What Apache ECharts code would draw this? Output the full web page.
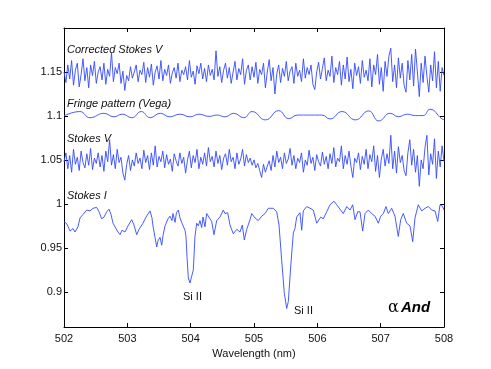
<!DOCTYPE html>
<html>
<head>
<meta charset="utf-8">
<script src="https://cdn.jsdelivr.net/npm/echarts@6/dist/echarts.min.js"></script>
<style>
  html, body { margin: 0; padding: 0; background: #fff; }
  #chart { width: 491px; height: 369px; }
</style>
</head>
<body>
<div id="chart"></div>
<script>
// 波长网格 (Stokes V 两条噪声谱用)
var wlStart = 502, wlStep = 0.03;

// Corrected Stokes V
var corrV = [
  1.150, 1.138, 1.158, 1.142, 1.163, 1.135, 1.152, 1.160, 1.133, 1.147, 1.165, 1.140, 1.155, 1.132, 1.158, 1.146, 1.162, 1.137, 1.150, 1.156,
  1.141, 1.160, 1.136, 1.153, 1.145, 1.172, 1.139, 1.155, 1.148, 1.160, 1.137, 1.151, 1.129, 1.146, 1.140, 1.156, 1.143, 1.150, 1.158, 1.139,
  1.152, 1.147, 1.161, 1.138, 1.155, 1.144, 1.159, 1.135, 1.150, 1.157, 1.142, 1.163, 1.140, 1.153, 1.146, 1.158, 1.137, 1.149, 1.155, 1.143,
  1.160, 1.139, 1.152, 1.147, 1.156, 1.141, 1.163, 1.144, 1.151, 1.136, 1.157, 1.148, 1.160, 1.142, 1.154, 1.139, 1.158, 1.146, 1.153, 1.141,
  1.174, 1.145, 1.156, 1.138, 1.152, 1.160, 1.143, 1.155, 1.137, 1.150, 1.162, 1.141, 1.154, 1.147, 1.165, 1.136, 1.152, 1.158, 1.141, 1.156,
  1.144, 1.161, 1.137, 1.153, 1.147, 1.160, 1.132, 1.150, 1.164, 1.140, 1.155, 1.125, 1.148, 1.158, 1.138, 1.154, 1.145, 1.162, 1.140, 1.151,
  1.156, 1.137, 1.160, 1.145, 1.152, 1.139, 1.165, 1.143, 1.155, 1.147, 1.158, 1.136, 1.130, 1.150, 1.161, 1.142, 1.154, 1.166, 1.140, 1.152,
  1.145, 1.168, 1.138, 1.155, 1.147, 1.162, 1.135, 1.158, 1.142, 1.167, 1.139, 1.153, 1.131, 1.160, 1.146, 1.156, 1.137, 1.163, 1.144, 1.152,
  1.140, 1.165, 1.133, 1.158, 1.147, 1.170, 1.136, 1.155, 1.128, 1.162, 1.145, 1.168, 1.177, 1.139, 1.158, 1.132, 1.166, 1.143, 1.160, 1.135,
  1.127, 1.163, 1.141, 1.170, 1.134, 1.176, 1.150, 1.122, 1.160, 1.138, 1.168, 1.145, 1.127, 1.158, 1.140, 1.173, 1.132, 1.162, 1.128, 1.155, 1.146
];

// Stokes V
var stokesV = [
  1.048, 1.058, 1.040, 1.055, 1.036, 1.062, 1.045, 1.053, 1.038, 1.060, 1.047, 1.041, 1.057, 1.044, 1.063, 1.039, 1.052, 1.046, 1.058, 1.042,
  1.055, 1.037, 1.060, 1.048, 1.073, 1.044, 1.056, 1.040, 1.062, 1.047, 1.053, 1.035, 1.027, 1.045, 1.055, 1.038, 1.050, 1.043, 1.058, 1.046,
  1.052, 1.040, 1.061, 1.047, 1.055, 1.039, 1.058, 1.044, 1.066, 1.042, 1.054, 1.048, 1.060, 1.041, 1.056, 1.045, 1.051, 1.037, 1.057, 1.049,
  1.043, 1.058, 1.046, 1.053, 1.035, 1.050, 1.060, 1.041, 1.055, 1.047, 1.062, 1.040, 1.053, 1.045, 1.058, 1.043, 1.064, 1.048, 1.054, 1.042,
  1.060, 1.046, 1.055, 1.039, 1.052, 1.057, 1.044, 1.062, 1.048, 1.053, 1.040, 1.058, 1.045, 1.051, 1.062, 1.043, 1.056, 1.047, 1.052, 1.044,
  1.050, 1.041, 1.046, 1.038, 1.030, 1.045, 1.036, 1.043, 1.049, 1.038, 1.055, 1.042, 1.060, 1.047, 1.053, 1.040, 1.058, 1.046, 1.051, 1.063,
  1.044, 1.055, 1.040, 1.052, 1.047, 1.058, 1.036, 1.050, 1.044, 1.061, 1.046, 1.053, 1.038, 1.056, 1.048, 1.043, 1.059, 1.045, 1.054, 1.040,
  1.057, 1.046, 1.064, 1.042, 1.052, 1.048, 1.066, 1.040, 1.055, 1.045, 1.060, 1.043, 1.030, 1.052, 1.047, 1.058, 1.039, 1.054, 1.045, 1.062,
  1.040, 1.056, 1.048, 1.066, 1.037, 1.055, 1.030, 1.051, 1.062, 1.043, 1.057, 1.046, 1.078, 1.040, 1.060, 1.035, 1.065, 1.047, 1.055, 1.038,
  1.032, 1.058, 1.073, 1.044, 1.062, 1.036, 1.055, 1.020, 1.050, 1.040, 1.064, 1.078, 1.033, 1.057, 1.045, 1.074, 1.029, 1.060, 1.042, 1.066, 1.048
];

// Fringe pattern (Vega): 波峰波谷
var fringeWave = [502.00, 502.25, 502.41, 502.63, 502.79, 502.92, 503.07, 503.22, 503.36, 503.52, 503.67, 503.83, 503.99, 504.13, 504.29, 504.42,
  504.54, 504.68, 504.84, 504.97, 505.18, 505.39, 505.55, 505.69, 505.88, 506.07, 506.20, 506.39, 506.60, 506.81, 506.97, 507.15, 507.28,
  507.42, 507.55, 507.67, 507.78, 507.97, 508.00];
var fringeVal = [1.100, 1.105, 1.098, 1.103, 1.099, 1.102, 1.098, 1.105, 1.098, 1.103, 1.099, 1.102, 1.099, 1.102, 1.0995, 1.101,
  1.099, 1.103, 1.098, 1.105, 1.0955, 1.106, 1.097, 1.101, 1.101, 1.101, 1.0966, 1.105, 1.0955, 1.1057, 1.0943, 1.103, 1.0992,
  1.102, 1.1004, 1.1004, 1.1076, 1.0966, 1.096];

// Stokes I
var iWave = [502.000, 502.047, 502.095, 502.142, 502.174, 502.221, 502.253, 502.300, 502.358, 502.411, 502.458, 502.516, 502.553, 502.595,
  502.632, 502.674, 502.711, 502.742, 502.774, 502.821, 502.853, 502.884, 502.916, 502.963, 503.011, 503.069, 503.105, 503.148, 503.184,
  503.247, 503.295, 503.358, 503.389, 503.405, 503.437, 503.464, 503.484, 503.516, 503.543, 503.563, 503.595, 503.642, 503.674, 503.705,
  503.721, 503.753, 503.776, 503.805, 503.832, 503.863, 503.911, 503.926, 503.942, 503.963, 503.989, 504.016, 504.042, 504.068, 504.095,
  504.121, 504.147, 504.174, 504.195, 504.226, 504.253, 504.278, 504.305, 504.332, 504.368, 504.411, 504.463, 504.515, 504.542, 504.585,
  504.621, 504.673, 504.727, 504.779, 504.815, 504.847, 504.885, 504.937, 504.964, 505.016, 505.068, 505.122, 505.174, 505.226, 505.305,
  505.358, 505.395, 505.437, 505.478, 505.516, 505.542, 505.584, 505.621, 505.647, 505.674, 505.726, 505.753, 505.778, 505.832, 505.884,
  505.936, 505.990, 506.015, 506.053, 506.094, 506.148, 506.200, 506.263, 506.306, 506.358, 506.410, 506.464, 506.516, 506.558, 506.595,
  506.637, 506.674, 506.716, 506.753, 506.805, 506.858, 506.911, 506.963, 507.001, 507.042, 507.084, 507.121, 507.174, 507.226, 507.278,
  507.316, 507.357, 507.411, 507.463, 507.506, 507.542, 507.594, 507.648, 507.700, 507.752, 507.806, 507.858, 507.901, 507.937, 507.980, 508.000];
var iFlux = [0.980, 0.977, 0.969, 0.972, 0.968, 0.974, 0.984, 0.988, 0.993, 0.992, 0.995, 0.996, 0.991, 0.983,
  0.985, 0.991, 0.994, 0.988, 0.978, 0.972, 0.968, 0.965, 0.970, 0.968, 0.975, 0.982, 0.976, 0.965, 0.971,
  0.978, 0.985, 0.992, 0.984, 0.975, 0.962, 0.951, 0.958, 0.962, 0.953, 0.964, 0.975, 0.983, 0.986, 0.981,
  0.989, 0.979, 0.990, 0.993, 0.984, 0.978, 0.970, 0.963, 0.940, 0.916, 0.910, 0.912, 0.925, 0.963, 0.978,
  0.975, 0.981, 0.973, 0.985, 0.974, 0.989, 0.990, 0.983, 0.980, 0.965, 0.981, 0.985, 0.993, 0.989, 0.990,
  0.976, 0.966, 0.971, 0.968, 0.976, 0.959, 0.971, 0.982, 0.989, 0.984, 0.981, 0.986, 0.989, 0.995, 0.995,
  0.991, 0.976, 0.936, 0.899, 0.881, 0.889, 0.933, 0.967, 0.972, 0.985, 0.990, 0.970, 0.992, 0.997, 0.995,
  0.993, 0.978, 0.976, 0.985, 0.983, 0.991, 0.999, 1.003, 0.999, 0.994, 0.989, 0.997, 0.993, 0.999, 0.982,
  0.991, 0.991, 0.969, 0.989, 0.993, 0.989, 0.986, 0.978, 0.986, 0.989, 0.997, 0.989, 0.995, 0.986, 0.963,
  0.982, 0.989, 0.978, 0.975, 0.957, 0.984, 0.999, 0.992, 0.995, 0.997, 0.993, 0.992, 0.980, 0.999, 0.997, 0.993];

var yTicks = [0.9, 0.95, 1, 1.05, 1.1, 1.15];

function onGrid(vals) {
  return vals.map(function (v, i) { return [+(wlStart + i * wlStep).toFixed(3), v]; });
}
function pairs(xs, ys) {
  return xs.map(function (x, i) { return [x, ys[i]]; });
}

var lineColor = '#3349ff';
var fontName = 'Liberation Sans';
var axisLine = { show: true, lineStyle: { color: '#000', width: 1 } };

var chart = echarts.init(document.getElementById('chart'), null, { renderer: 'canvas' });

option = {
  backgroundColor: '#fff',
  animation: false,
  grid: { left: 64, right: 47, top: 28, bottom: 42 },
  xAxis: [
    {
      type: 'value', min: 502, max: 508, interval: 1,
      name: 'Wavelength (nm)', nameLocation: 'middle', nameGap: 20,
      nameTextStyle: { fontFamily: fontName, fontSize: 11, color: '#111' },
      axisLine: axisLine,
      axisTick: { inside: true, length: 4, lineStyle: { color: '#000' } },
      axisLabel: { fontFamily: fontName, fontSize: 11, color: '#111', margin: 6 },
      splitLine: { show: false }
    },
    {
      type: 'value', min: 502, max: 508, interval: 1, position: 'top',
      axisLine: axisLine,
      axisTick: { inside: true, length: 4, lineStyle: { color: '#000' } },
      axisLabel: { show: false },
      splitLine: { show: false }
    }
  ],
  yAxis: [
    {
      type: 'value', min: 0.86, max: 1.2,
      axisLine: axisLine,
      axisTick: { inside: true, length: 4, customValues: yTicks, lineStyle: { color: '#000' } },
      axisLabel: { fontFamily: fontName, fontSize: 11, color: '#111', margin: 2, customValues: yTicks },
      splitLine: { show: false }
    },
    {
      type: 'value', min: 0.86, max: 1.2, position: 'right',
      axisLine: axisLine,
      axisTick: { inside: true, length: 4, customValues: yTicks, lineStyle: { color: '#000' } },
      axisLabel: { show: false, customValues: yTicks },
      splitLine: { show: false }
    }
  ],
  series: [
    {
      name: 'Corrected Stokes V', type: 'line', showSymbol: false,
      data: onGrid(corrV), lineStyle: { color: lineColor, width: 0.9 }
    },
    {
      name: 'Fringe pattern (Vega)', type: 'line', showSymbol: false, smooth: 0.5,
      data: pairs(fringeWave, fringeVal), lineStyle: { color: lineColor, width: 0.9 }
    },
    {
      name: 'Stokes V', type: 'line', showSymbol: false,
      data: onGrid(stokesV), lineStyle: { color: lineColor, width: 0.9 }
    },
    {
      name: 'Stokes I', type: 'line', showSymbol: false,
      data: pairs(iWave, iFlux), lineStyle: { color: lineColor, width: 0.9 }
    }
  ],
  graphic: [
    { type: 'text', left: 67, top: 44, style: { text: 'Corrected Stokes V', font: 'italic 11px "Liberation Sans"', fill: '#111' } },
    { type: 'text', left: 67, top: 98, style: { text: 'Fringe pattern (Vega)', font: 'italic 11px "Liberation Sans"', fill: '#111' } },
    { type: 'text', left: 67, top: 133, style: { text: 'Stokes V', font: 'italic 11px "Liberation Sans"', fill: '#111' } },
    { type: 'text', left: 67, top: 190, style: { text: 'Stokes I', font: 'italic 11px "Liberation Sans"', fill: '#111' } },
    { type: 'text', left: 183, top: 291, style: { text: 'Si II', font: '11px "Liberation Sans"', fill: '#111' } },
    { type: 'text', left: 294, top: 305, style: { text: 'Si II', font: '11px "Liberation Sans"', fill: '#111' } },
    { type: 'text', left: 388, top: 300, style: { text: 'α', font: '16px "DejaVu Serif"', fill: '#000' } },
    { type: 'text', left: 401, top: 300, style: { text: 'And', font: 'italic bold 15px "Liberation Sans"', fill: '#000' } }
  ]
};

chart.setOption(option);
</script>
</body>
</html>
